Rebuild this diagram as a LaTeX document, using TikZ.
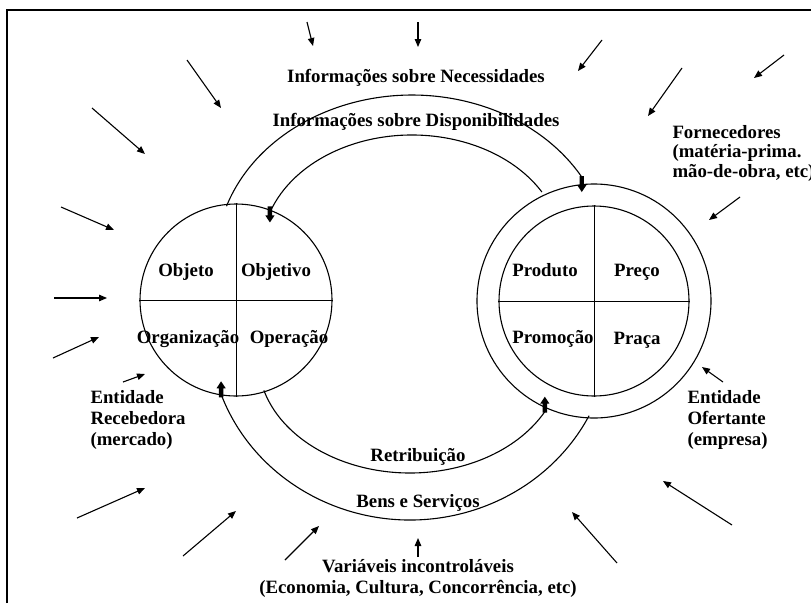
\documentclass[tikz,border=0pt]{standalone}
\usepackage{fontspec}
\setmainfont{Liberation Serif}
\usetikzlibrary{arrows.meta}
\begin{document}
\begin{tikzpicture}[x=1pt,y=-1pt,line width=1pt,
  lbl/.style={font=\bfseries\fontsize{18.8}{21}\selectfont,inner sep=0pt,text height=12pt,text depth=0pt},
  mlbl/.style={font=\bfseries\fontsize{18.8}{21}\selectfont,inner sep=0pt},
  entity/.style={draw,circle,inner sep=0pt,line width=1.1pt},
  thinarrow/.style={line width=1.1pt,-{Triangle[length=8pt,width=6.5pt]}},
  flow/.style={line width=1.1pt},
  pics/blk/.style={code={\fill (-2.2,-1) -- (2.2,-1) -- (2.2,8) -- (4.6,8) -- (0,15) -- (-4.6,8) -- (-2.2,8) -- cycle;}}
]
\useasboundingbox (0,0) rectangle (811,603);
% frame
\draw[line width=1.2pt] (7,603) -- (7,10) -- (811,10);

% receiving entity (market)
\node[entity,minimum size=192pt] (rec) at (236,300) {};
\draw (rec.north) -- (rec.south);
\draw (rec.west) -- (rec.east);

% offering entity (company)
\node[entity,minimum size=234pt] (ofOut) at (594,301) {};
\node[entity,minimum size=190pt] (ofIn) at (594,301) {};
\draw (ofIn.north) -- (ofIn.south);
\draw (ofIn.west) -- (ofIn.east);

% quadrant labels
\node[lbl] (objeto) at (186,270) {Objeto};
\node[lbl] (objetivo) at (276,270) {Objetivo};
\node[lbl] (organizacao) at (188,337) {Organização};
\node[lbl] (operacao) at (289,337) {Operação};
\node[lbl] (produto) at (545,270) {Produto};
\node[lbl] (preco) at (637,270) {Preço};
\node[lbl] (promocao) at (553,337) {Promoção};
\node[lbl] (praca) at (637,338) {Praça};

% information flows (top)
\coordinate (outTopL) at (226.5,206.2);
\draw[flow] (outTopL) arc[start angle=161.2,end angle=30,x radius=196pt,y radius=164pt] coordinate (outTopR);
\pic at (outTopR) {blk};
\coordinate (inTopR) at (541.9,192);
\draw[flow] (inTopR) arc[start angle=30,end angle=161.3,x radius=150pt,y radius=114pt] coordinate (inTopL);
\pic at ([yshift=5pt]inTopL) {blk};

% goods and payment flows (bottom)
\coordinate (bensL) at (221.1,394.3);
\draw[flow] (bensL) arc[start angle=200,end angle=333,x radius=201pt,y radius=191pt] coordinate (bensR);
\pic[rotate=180] at ([yshift=-2pt]bensL) {blk};
\coordinate (retL) at (263.9,390.4);
\draw[flow] (retL) arc[start angle=196,end angle=332.5,x radius=152pt,y radius=114pt] coordinate (retR);
\pic[rotate=180] at (retR) {blk};

% flow labels
\node[lbl] (necess) at (416,76) {Informações sobre Necessidades};
\node[lbl] (dispon) at (416,120) {Informações sobre Disponibilidades};
\node[lbl] (retrib) at (418,455) {Retribuição};
\node[lbl] (bens) at (418,501) {Bens e Serviços};

% side labels
\node[mlbl,align=left,anchor=west,font=\bfseries\fontsize{18.8}{19.5}\selectfont] (fornec) at (672,153)
  {Fornecedores\\(matéria-prima.\\mão-de-obra, etc)};
\node[mlbl,align=left,anchor=west] (recebedora) at (90,420) {Entidade\\Recebedora\\(mercado)};
\node[mlbl,align=left,anchor=west] (ofertante) at (687,420) {Entidade\\Ofertante\\(empresa)};
\node[mlbl,align=center] (variaveis) at (418,578) {Variáveis incontroláveis\\(Economia, Cultura, Concorrência, etc)};

% environmental influences
\foreach \n/\tx/\ty/\hx/\hy in {
  a/307/22/313/46, b/418/22/418/47, c/602/40/578/71, d/682/68/648/116,
  e/784/55/754/78, f/740/197/709/220, g/187/60/221/108, h/92/108/145/154,
  i/61/207/114/230, j/54/298/107/298, k/53/358/99/337, l/123/382/145/374,
  m/77/518/145/488, n/183/556/236/511, o/285/560/319/526, s/418/557/418/538,
  r/617/563/572/512, q/732/525/663/481, p/723/382/702/367} {
  \coordinate (tail-\n) at (\tx,\ty);
  \coordinate (head-\n) at (\hx,\hy);
  \draw[thinarrow] (tail-\n) -- (head-\n);
}
\end{tikzpicture}
\end{document}
